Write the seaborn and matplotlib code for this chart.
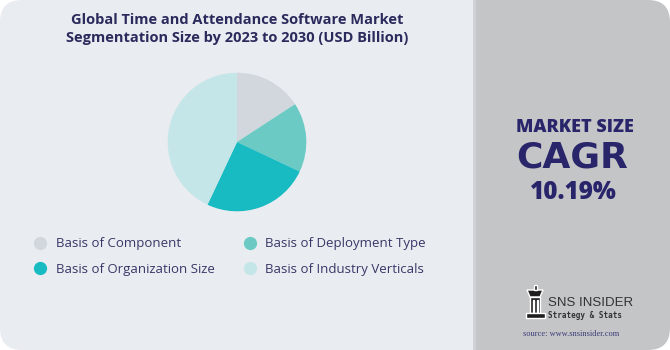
import matplotlib
matplotlib.use("Agg")
import matplotlib.pyplot as plt
import seaborn as sns
from matplotlib.patches import FancyBboxPatch, Rectangle, Polygon
from matplotlib.lines import Line2D

segments = ["Basis of Component", "Basis of Deployment Type",
            "Basis of Organization Size", "Basis of Industry Verticals"]
shares = [15.8, 16.2, 25.0, 43.0]
seg_colors = ["#d1d7dd", "#6ccac4", "#17bbc1", "#c5e6e8"]
# legend is filled column by column: rows read Component/Deployment, Organization/Industry
legend_order = [0, 2, 1, 3]

title_text = "Global Time and Attendance Software Market\nSegmentation Size by 2023 to 2030 (USD Billion)"
kpi_label = "MARKET SIZE"
kpi_name = "CAGR"
kpi_value = "10.19%"
brand = "SNS INSIDER"
brand_sub = "Strategy & Stats"
source_text = "source: www.snsinsider.com"

sns.set_theme(style="white")
plt.rcParams["font.family"] = ["Open Sans", "DejaVu Sans"]

W, H = 670, 350
fig = plt.figure(figsize=(W / 100, H / 100), dpi=100)
fig.patch.set_facecolor("white")

bg = fig.add_axes([0, 0, 1, 1])
bg.set_xlim(0, W)
bg.set_ylim(H, 0)
bg.axis("off")

clip = FancyBboxPatch((0, 0), W, H, boxstyle="round,pad=0,rounding_size=22",
                      facecolor="none", edgecolor="none", transform=bg.transData)
bg.add_patch(clip)
left = Rectangle((0, 0), 474, H, facecolor="#e9ecf1", edgecolor="none")
divider = Rectangle((473, 0), 3, H, facecolor="#cfd1d6", edgecolor="none")
right = Rectangle((475.5, 0), W - 475.5, H, facecolor="#c4c5c7", edgecolor="none")
for p in (left, divider, right):
    bg.add_patch(p)
    p.set_clip_path(clip)

title_color = "#2b2a5c"
bg.text(237, 29, title_text, ha="center", va="center", fontsize=10.5,
        fontweight="bold", color=title_color, linespacing=1.3)

# Pie
cx, cy, r = 237, 142, 70
pax = fig.add_axes([(cx - r) / W, 1 - (cy + r) / H, 2 * r / W, 2 * r / H])
wedges, _ = pax.pie(shares, colors=seg_colors, startangle=90, counterclock=False,
                    wedgeprops=dict(linewidth=0))
pax.set_aspect("equal")
pax.set_xlim(-1.01, 1.01)
pax.set_ylim(-1.01, 1.01)
pax.axis("off")

handles = [Line2D([0], [0], marker="o", linestyle="none", markersize=9.5,
                  markerfacecolor=seg_colors[i], markeredgecolor="none")
           for i in legend_order]
labels = [segments[i] for i in legend_order]
leg = fig.legend(handles, labels, ncol=2, loc="upper left",
                 bbox_to_anchor=(28 / W, 1 - 232 / H), frameon=False,
                 fontsize=9.5, handletextpad=0.7, columnspacing=2.15,
                 labelspacing=0.95, handlelength=1.0, borderaxespad=0)
for t in leg.get_texts():
    t.set_color("#3a3766")

kpi_color = "#28256a"
bg.text(575, 132, kpi_label, ha="center", va="baseline", fontsize=13,
        fontweight="heavy", color=kpi_color)
bg.text(572, 167, kpi_name, ha="center", va="baseline", fontsize=26,
        fontweight="bold", color=kpi_color, family="DejaVu Sans")
bg.text(573, 199, kpi_value, ha="center", va="baseline", fontsize=17.5,
        fontweight="heavy", color=kpi_color)

# logo
icon = "#1e1e1e"
bg.add_patch(Polygon([[527, 290], [543, 290], [540, 297], [530, 297]], facecolor=icon))
bg.add_patch(Rectangle((533.5, 285), 3, 5, facecolor=icon))
bg.add_patch(Rectangle((530, 297), 10, 16, facecolor=icon))
bg.add_patch(Rectangle((533, 300), 1.2, 13, facecolor="#c4c5c7"))
bg.add_patch(Rectangle((536.5, 300), 1.2, 13, facecolor="#c4c5c7"))
bg.add_patch(Rectangle((526, 313), 19, 5, facecolor=icon))
bg.text(548, 306, brand, ha="left", va="baseline", fontsize=9.5,
        color="#333333", family=["Liberation Sans Narrow", "Liberation Sans"])
bg.text(548, 318, brand_sub, ha="left", va="baseline", fontsize=5.5,
        color="#333333", fontweight="bold", family="DejaVu Sans Mono")
bg.text(571, 334, source_text, ha="center", va="center", fontsize=6,
        color="#3b3b78", family="Liberation Serif")

fig.savefig("out.png", dpi=100, facecolor=fig.get_facecolor())
